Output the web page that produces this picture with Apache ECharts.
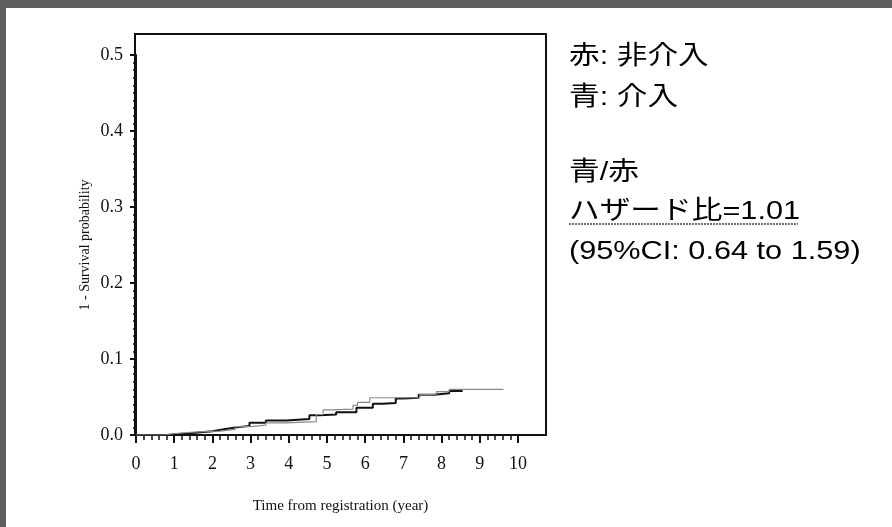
<!DOCTYPE html>
<html><head><meta charset="utf-8">
<script src="https://cdn.jsdelivr.net/npm/echarts@6/dist/echarts.min.js"></script>
<style>
html,body{margin:0;padding:0;background:#fff;}
#c{width:892px;height:527px;position:absolute;left:0;top:0}
#bt{position:absolute;left:0;top:0;width:892px;height:8px;background:#5e5e5e}
#bl{position:absolute;left:0;top:0;width:6px;height:527px;background:#5e5e5e}
</style>
</head><body><div id="c"></div><div id="bt"></div><div id="bl"></div>
<script>
// ---- data ----
const xTickLabels = ['0','1','2','3','4','5','6','7','8','9','10'];
const yTickLabels = ['0.0','0.1','0.2','0.3','0.4','0.5'];
// 青: 介入 (dark line) — Kaplan–Meier 1 - survival, jump times (year) and values
const interventionTimes  = [0, 0.80, 1.10, 1.57, 2.00, 2.30, 2.60, 2.97, 3.40, 3.93, 4.54, 4.80, 5.24, 5.77, 6.20, 6.46, 6.80, 7.00, 7.40, 7.80, 8.20, 8.55];
const interventionValues = [0, 0.001, 0.003, 0.005, 0.0075, 0.010, 0.012, 0.016, 0.019, 0.021, 0.026, 0.027, 0.030, 0.036, 0.041, 0.042, 0.048, 0.049, 0.053, 0.055, 0.058, 0.058];
// 赤: 非介入 (grey line)
const controlTimes  = [0, 0.75, 1.00, 1.60, 2.20, 2.60, 3.00, 3.40, 3.90, 4.72, 4.90, 5.10, 5.68, 5.80, 6.12, 6.90, 7.43, 7.78, 7.87, 8.20, 9.62];
const controlValues = [0, 0.002, 0.004, 0.005, 0.0075, 0.011, 0.013, 0.016, 0.0175, 0.027, 0.033, 0.034, 0.039, 0.043, 0.049, 0.049, 0.053, 0.054, 0.057, 0.060, 0.060];
const noteLines = ['赤: 非介入', '青: 介入', '青/赤', 'ハザード比=1.01', '(95%CI: 0.64 to 1.59)'];
const xName = 'Time from registration (year)';
const yName = '1 - Survival probability';

// ---- chart ----
const zip = (a, b) => a.map((t, i) => [t, b[i]]);
const serif = "'Liberation Serif', 'Times New Roman', serif";
const sans = "'Liberation Sans', Arial, 'Noto Sans CJK JP', sans-serif";
const chart = echarts.init(document.getElementById('c'), null, {renderer: 'canvas'});

const noteY = [57, 98, 173, 212, 252];
const noteEls = noteLines.map((s, i) => ({
  type: 'text', x: 569, y: noteY[i], scaleX: 1.18, scaleY: 1,
  style: {text: s, font: '26px ' + sans, fill: '#000', verticalAlign: 'middle', align: 'left'}
}));
noteEls.push({type: 'line', shape: {x1: 569, y1: 224, x2: 798, y2: 224},
  style: {stroke: '#444', lineWidth: 1.5, lineDash: [2, 1]}});

chart.setOption({
  animation: false,
  backgroundColor: '#fff',
  grid: [
    {left: 136, right: 374, top: 55, bottom: 92},
    {left: 135, right: 346, top: 34, bottom: 92, show: true, borderColor: '#111', borderWidth: 2, backgroundColor: 'transparent'}
  ],
  xAxis: [
    {type: 'value', gridIndex: 0, min: 0, max: 10, interval: 1,
     axisLine: {show: true, lineStyle: {color: '#111', width: 2}},
     axisTick: {show: true, inside: false, length: 8, lineStyle: {color: '#111', width: 2}},
     minorTick: {show: true, splitNumber: 5, length: 5, lineStyle: {color: '#111', width: 1.5}},
     splitLine: {show: false},
     axisLabel: {margin: 20, fontFamily: serif, fontSize: 18, color: '#111',
       formatter: v => xTickLabels[Math.round(v)] }},
    {type: 'value', gridIndex: 1, min: 0, max: 1, name: xName, nameLocation: 'middle', nameGap: 64,
     nameTextStyle: {fontFamily: serif, fontSize: 15, color: '#111'},
     axisLine: {show: false}, axisTick: {show: false}, axisLabel: {show: false}, splitLine: {show: false}}
  ],
  yAxis: [
    {type: 'value', gridIndex: 0, min: 0, max: 0.5, interval: 0.1,
     axisLine: {show: true, lineStyle: {color: '#111', width: 2}},
     axisTick: {show: true, length: 6, lineStyle: {color: '#111', width: 2}},
     minorTick: {show: true, splitNumber: 10, length: 3, lineStyle: {color: '#111', width: 1.5}},
     splitLine: {show: false},
     name: yName, nameLocation: 'middle', nameGap: 44, nameRotate: 90,
     nameTextStyle: {fontFamily: serif, fontSize: 14, color: '#111'},
     axisLabel: {margin: 13, fontFamily: serif, fontSize: 18, color: '#111',
       formatter: v => yTickLabels[Math.round(v * 10)] }},
    {type: 'value', gridIndex: 1, min: 0, max: 1, show: false}
  ],
  graphic: noteEls,
  series: [
    {type: 'line', xAxisIndex: 0, yAxisIndex: 0, step: 'end', showSymbol: false,
     data: zip(interventionTimes, interventionValues),
     lineStyle: {color: '#111', width: 2}},
    {type: 'line', xAxisIndex: 0, yAxisIndex: 0, step: 'end', showSymbol: false,
     data: zip(controlTimes, controlValues),
     lineStyle: {color: '#8a8a8a', width: 1.2}}
  ]
});
</script>
</body></html>
